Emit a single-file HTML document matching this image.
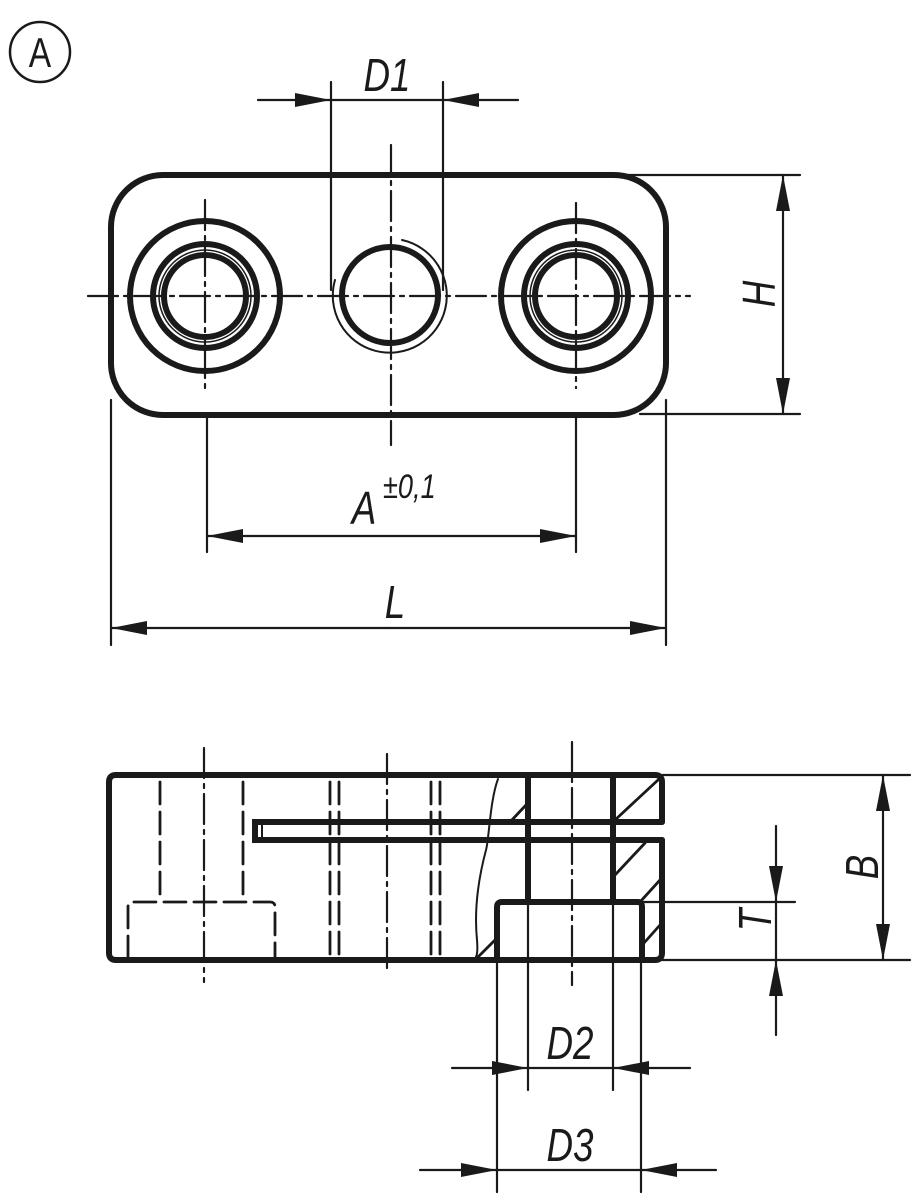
<!DOCTYPE html>
<html><head><meta charset="utf-8"><style>
html,body{margin:0;padding:0;background:#fff}
svg{display:block}
text{font-family:"Liberation Sans",sans-serif;font-style:italic;fill:#1a1a1a}
</style></head><body>
<svg width="916" height="1200" viewBox="0 0 916 1200" xmlns="http://www.w3.org/2000/svg">
<defs>
<marker id="ar" viewBox="0 0 36 14" refX="36" refY="7" markerWidth="36" markerHeight="14" markerUnits="userSpaceOnUse" orient="auto"><path d="M0,0 L36,7 L0,14 Z" fill="#1a1a1a"/></marker>
</defs>
<g stroke="#1a1a1a" fill="none" stroke-linecap="round">
<circle cx="40" cy="52" r="30" stroke-width="2.5"/>
<rect x="111" y="175" width="555" height="240" rx="52" stroke-width="6"/>
<circle cx="205" cy="296" r="75" stroke-width="6"/>
<circle cx="205" cy="296" r="52" stroke-width="6"/>
<circle cx="205" cy="296" r="46" stroke-width="1.5"/>
<circle cx="205" cy="296" r="41" stroke-width="6"/>
<circle cx="576" cy="296" r="75" stroke-width="6"/>
<circle cx="576" cy="296" r="52" stroke-width="6"/>
<circle cx="576" cy="296" r="46" stroke-width="1.5"/>
<circle cx="576" cy="296" r="41" stroke-width="6"/>
<circle cx="390" cy="295" r="48" stroke-width="6"/>
<path d="M402,240 A57,57 0 1 1 335,280" stroke-width="2"/>
<g stroke-width="2.2" stroke-dasharray="30,6,4,6">
<line x1="88" y1="296" x2="690" y2="296"/>
<line x1="205" y1="200" x2="205" y2="388"/>
<line x1="576" y1="203" x2="576" y2="388"/>
<line x1="391" y1="145" x2="391" y2="445"/>
</g>
<g stroke-width="2.2">
<line x1="331" y1="82" x2="331" y2="290"/>
<line x1="443" y1="82" x2="443" y2="290"/>
<line x1="258" y1="100" x2="331" y2="100" marker-end="url(#ar)"/>
<line x1="518" y1="100" x2="443" y2="100" marker-end="url(#ar)"/>
<line x1="331" y1="100" x2="443" y2="100"/>
<line x1="620" y1="175" x2="800" y2="175"/>
<line x1="640" y1="414" x2="800" y2="414"/>
<line x1="783" y1="295" x2="783" y2="175" marker-end="url(#ar)"/>
<line x1="783" y1="295" x2="783" y2="414" marker-end="url(#ar)"/>
<line x1="207" y1="418" x2="207" y2="552"/>
<line x1="576" y1="418" x2="576" y2="552"/>
<line x1="390" y1="536" x2="207" y2="536" marker-end="url(#ar)"/>
<line x1="390" y1="536" x2="576" y2="536" marker-end="url(#ar)"/>
<line x1="111" y1="400" x2="111" y2="645"/>
<line x1="666" y1="400" x2="666" y2="645"/>
<line x1="390" y1="628" x2="111" y2="628" marker-end="url(#ar)"/>
<line x1="390" y1="628" x2="666" y2="628" marker-end="url(#ar)"/>
</g>
<path d="M662,822 L662,782 Q662,775 655,775 L116,775 Q109,775 109,782 L109,953 Q109,960 116,960 L655,960 Q662,960 662,953 L662,840" stroke-width="6"/>
<path d="M662,822 L255,822 L255,840 L662,840" stroke-width="6"/>
<line x1="262" y1="825" x2="262" y2="838" stroke-width="2"/>
<path d="M497,960 L497,907 Q497,902 502,902 L638,902 Q642,902 642,907 L642,960" stroke-width="6"/>
<line x1="528" y1="775" x2="528" y2="902" stroke-width="6"/>
<line x1="613" y1="775" x2="613" y2="902" stroke-width="6"/>
<path d="M498,779 C490,800 489,840 486,850 C478,880 474,910 477,940 C478,952 477,957 474,960" stroke-width="2"/>
<g stroke-width="2.8">
<line x1="615" y1="820" x2="658" y2="780"/>
<line x1="615" y1="875" x2="645" y2="843"/>
<line x1="640" y1="902" x2="660" y2="880"/>
<line x1="644" y1="943" x2="660" y2="925"/>
<line x1="510" y1="822" x2="526" y2="805"/>
<line x1="477" y1="958" x2="495" y2="940"/>
</g>
<g stroke-width="2.8" stroke-dasharray="22,8">
<line x1="160" y1="782" x2="160" y2="900"/>
<line x1="243" y1="782" x2="243" y2="900"/>
<line x1="330" y1="782" x2="330" y2="958"/>
<line x1="339" y1="782" x2="339" y2="958"/>
<line x1="431" y1="782" x2="431" y2="958"/>
<line x1="440" y1="782" x2="440" y2="958"/>
<path d="M128,958 L128,907 Q128,902 133,902 L270,902 Q275,902 275,907 L275,958"/>
</g>
<g stroke-width="2.2" stroke-dasharray="30,6,4,6">
<line x1="204" y1="748" x2="204" y2="982"/>
<line x1="387" y1="754" x2="387" y2="972"/>
<line x1="572" y1="742" x2="572" y2="985"/>
</g>
<g stroke-width="2.2">
<line x1="662" y1="775" x2="910" y2="775"/>
<line x1="662" y1="960" x2="910" y2="960"/>
<line x1="642" y1="902" x2="795" y2="902"/>
<line x1="883" y1="867" x2="883" y2="775" marker-end="url(#ar)"/>
<line x1="883" y1="867" x2="883" y2="960" marker-end="url(#ar)"/>
<line x1="776" y1="826" x2="776" y2="902" marker-end="url(#ar)"/>
<line x1="776" y1="1035" x2="776" y2="960" marker-end="url(#ar)"/>
<line x1="776" y1="902" x2="776" y2="960"/>
<line x1="528" y1="902" x2="528" y2="1090"/>
<line x1="613" y1="902" x2="613" y2="1090"/>
<line x1="452" y1="1068" x2="528" y2="1068" marker-end="url(#ar)"/>
<line x1="690" y1="1068" x2="613" y2="1068" marker-end="url(#ar)"/>
<line x1="528" y1="1068" x2="613" y2="1068"/>
<line x1="497" y1="960" x2="497" y2="1192"/>
<line x1="641" y1="960" x2="641" y2="1192"/>
<line x1="420" y1="1170" x2="497" y2="1170" marker-end="url(#ar)"/>
<line x1="716" y1="1170" x2="641" y2="1170" marker-end="url(#ar)"/>
<line x1="497" y1="1170" x2="641" y2="1170"/>
</g>
</g>
<g font-size="46">
<text x="40" y="67" text-anchor="middle" style="font-style:normal" font-size="42" transform="translate(40 0) scale(0.8 1) translate(-40 0)">A</text>
<text x="387" y="91" text-anchor="middle" transform="translate(387 0) scale(0.8 1) translate(-387 0)">D1</text>
<text x="364" y="524" text-anchor="middle" transform="translate(364 0) scale(0.8 1) translate(-364 0)">A</text>
<text x="383" y="498" font-size="34" transform="translate(383 0) scale(0.8 1) translate(-383 0)">±0,1</text>
<text x="395" y="618" text-anchor="middle" transform="translate(395 0) scale(0.8 1) translate(-395 0)">L</text>
<text x="570" y="1059" text-anchor="middle" transform="translate(570 0) scale(0.8 1) translate(-570 0)">D2</text>
<text x="570" y="1161" text-anchor="middle" transform="translate(570 0) scale(0.8 1) translate(-570 0)">D3</text>
<text transform="translate(775 294) rotate(-90) scale(0.8 1)" text-anchor="middle">H</text>
<text transform="translate(878 867) rotate(-90) scale(0.8 1)" text-anchor="middle">B</text>
<text transform="translate(771 920) rotate(-90) scale(0.8 1)" text-anchor="middle">T</text>
</g>
</svg>
</body></html>
